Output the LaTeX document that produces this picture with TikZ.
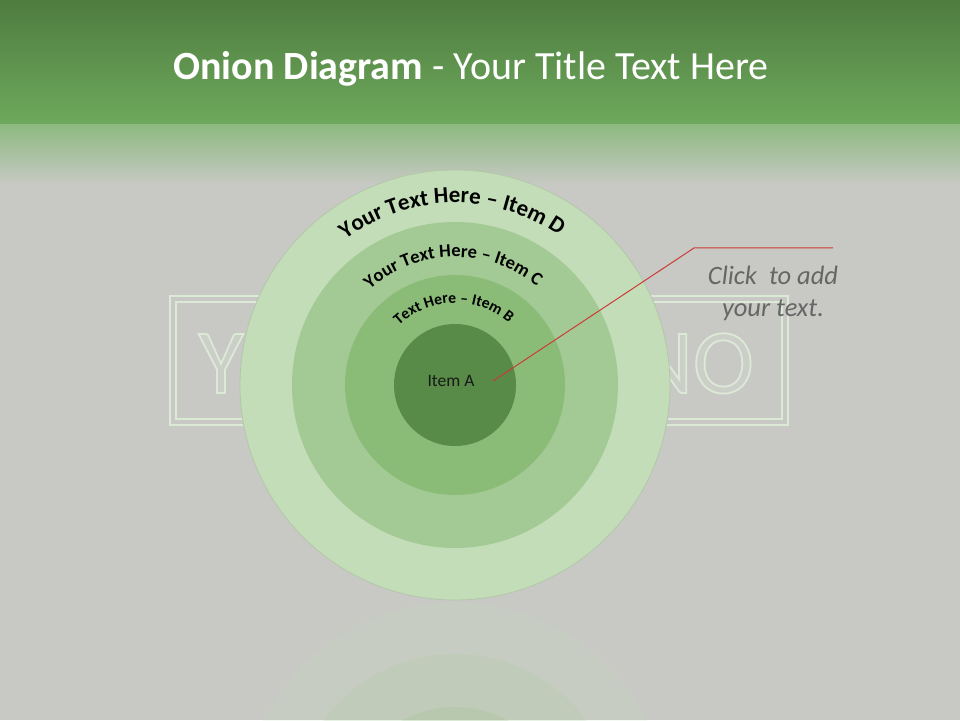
\documentclass[tikz,border=0pt]{standalone}
\usepackage{fontspec}
\setmainfont{Carlito}
\usetikzlibrary{decorations.text}
\definecolor{bg}{HTML}{C8C9C4}
\definecolor{tgA}{HTML}{4E7C40}
\definecolor{tgB}{HTML}{6EA95C}
\definecolor{tgC}{HTML}{8DBA80}
\definecolor{wm}{HTML}{DDE9D7}
\definecolor{wmin}{HTML}{CCCFC8}
\definecolor{cD}{HTML}{C2DDB8}
\definecolor{cDedge}{HTML}{B3C7AA}
\definecolor{cC}{HTML}{A3CA94}
\definecolor{cB}{HTML}{8ABC78}
\definecolor{cA}{HTML}{578B47}
\definecolor{callred}{HTML}{CC3B36}
\definecolor{clicktext}{HTML}{666666}
\newcommand{\outlinedtext}[1]{\special{pdf:code q 2 Tr 1.8 w 0.867 0.914 0.843 RG}#1\special{pdf:code Q}}
\tikzset{
  arctext/.style={decorate, decoration={text along path, text align=center, text={#1}}},
  wmrect/.style={draw=wm, line width=2pt},
  wmtext/.style={inner sep=0pt, font=\fontsize{92}{92}\selectfont, text=wmin},
  refl/.style={opacity=0.16},
}
\begin{document}
\begin{tikzpicture}[x=1pt,y=1pt]
\useasboundingbox (0,0) rectangle (960,720);
\fill[bg] (0,0) rectangle (960,720);
% title band
\shade[top color=tgA, bottom color=tgB] (0,595) rectangle (960,720.5);
\shade[top color=tgC, bottom color=bg] (-1,535) rectangle (961,595);
\node[anchor=base, text=white, inner sep=0pt, font=\fontsize{40}{46}\selectfont] (title) at (471,640)
  {\textbf{Onion Diagram} - Your Title Text Here};
% watermark
\draw[wmrect] (170,295) rectangle (788,424);
\draw[wmrect] (176,301) rectangle (782,418);
\node[wmtext, anchor=base] (wmY) at (221,327) {\outlinedtext{Y}};
\node[wmtext, anchor=base east] (wmNO) at (754,327) {\outlinedtext{NO}};
% reflection
\begin{scope}
\clip (0,0) rectangle (960,119);
\fill[cD, refl] (455,-97) circle (215);
\fill[cC, refl] (455,-97) circle (163);
\fill[cB, refl] (455,-97) circle (110);
\end{scope}
% onion
\fill[cD, draw=cDedge, line width=0.8pt] (455,335) circle (215);
\fill[cC] (455,335) circle (163);
\fill[cB] (455,335) circle (110);
\node[circle, fill=cA, minimum size=122pt, inner sep=0pt] (itemA) at (455,335) {};
\node[inner sep=0pt, font=\fontsize{17.5}{20}\selectfont, text=black!90] (itemAtext) at (451,339) {Item A};
% curved labels
\path[arctext={|\bfseries\fontsize{23}{27}\selectfont|Your Text Here – Item D}]
  ([shift={(161:182)}]455,335) arc[start angle=161, end angle=21, radius=182];
\path[arctext={|\bfseries\fontsize{18.5}{22}\selectfont|Your Text Here – Item C}]
  ([shift={(161:128)}]455,335) arc[start angle=161, end angle=21, radius=128];
\path[arctext={|\bfseries\fontsize{15.7}{19}\selectfont|Text Here – Item B}]
  ([shift={(161:82)}]455,335) arc[start angle=161, end angle=21, radius=82];
% callout
\coordinate (ca) at (493,339);
\coordinate (cb) at (694,472);
\coordinate (cc) at (833,472);
\draw[callred, line width=1pt] (ca) -- (cb) -- (cc);
\node[anchor=base, inner sep=0pt, text=clicktext, font=\itshape\fontsize{26.5}{30}\selectfont] (click1) at (773,435) {Click\ \ to add};
\node[anchor=base, inner sep=0pt, text=clicktext, font=\itshape\fontsize{26.5}{30}\selectfont] (click2) at (773,403) {your text.};
\end{tikzpicture}
\end{document}
